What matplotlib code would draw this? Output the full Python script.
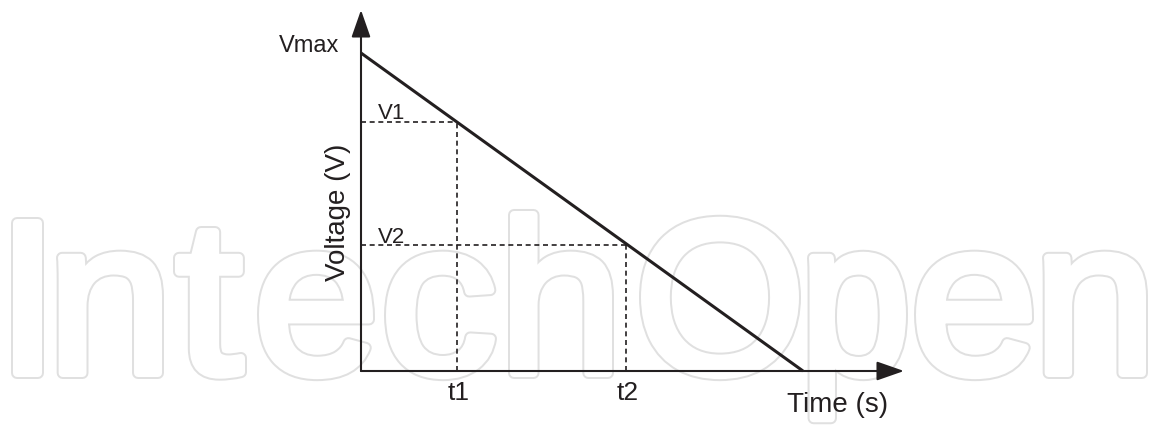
import matplotlib
matplotlib.use("Agg")
import matplotlib.pyplot as plt
from matplotlib.textpath import TextPath
from matplotlib.font_manager import FontProperties
from matplotlib.patches import PathPatch
from matplotlib.transforms import Affine2D

# ---- data (normalised units: Vmax = 1, end time = 1) ----
line_t = [0.0, 1.0]
line_v = [1.0, 0.0]
marker_t = [0.218, 0.600]
marker_v = [0.784, 0.395]
t_labels = ["t1", "t2"]
v_labels = ["V1", "V2"]
vmax_label = "Vmax"
x_label = "Time (s)"
y_label = "Voltage (V)"
watermark = "IntechOpen"

W, H = 1151, 426
fig = plt.figure(figsize=(W / 100, H / 100), dpi=100)
fig.patch.set_facecolor("white")

# axes spanning the figure; data origin at pixel (361, 371 from top)
ax = fig.add_axes([0, 0, 1, 1])
ax.set_facecolor("none")
ax.axis("off")
px_x, px_y = 442.0, 318.0
ox, oy = 361.0, H - 371.0
ax.set_xlim(-ox / px_x, (W - ox) / px_x)
ax.set_ylim(-oy / px_y, (H - oy) / px_y)
ax.set_zorder(1)

ink = "#231f20"
font = ["Liberation Sans", "DejaVu Sans"]

# ---- watermark (outlined, slightly expanded letters, tracked out) ----
fp = FontProperties(family=font)
grow = 5
capI = TextPath((0, 0), "I", size=1, prop=fp).get_extents()
sy = (160 - 2 * grow) / capI.height
base_px = H - 378 + grow
glyph_left = [12, 57, 174, 258, 385, 509, 640, 808, 915, 1043]
glyph_right = [43, 163, 246, 374, 496, 613, 800, 907, 1033, 1147]
outer = (2 * grow + 2) * 0.72
inner = (2 * grow - 2) * 0.72
for ch, lx, rx in zip(watermark, glyph_left, glyph_right):
    gp = TextPath((0, 0), ch, size=1, prop=fp)
    ge = gp.get_extents()
    sx = (rx - lx - 2 * grow) / ge.width
    tr = (Affine2D().translate(-ge.x0, 0).scale(sx, sy)
          .translate(lx + grow, base_px).scale(1 / W, 1 / H) + fig.transFigure)
    fig.add_artist(PathPatch(gp, transform=tr, facecolor="white", edgecolor="#e0e0e0",
                             lw=outer, joinstyle="round", zorder=-2))
    fig.add_artist(PathPatch(gp, transform=tr, facecolor="white", edgecolor="white",
                             lw=inner, joinstyle="round", zorder=-1))

# ---- axes arrows ----
x_tip = (904 - ox) / px_x
y_tip = (H - 10 - oy) / px_y
arrow = dict(arrowstyle="-|>,head_length=1.2,head_width=0.42", mutation_scale=14,
             lw=1.5, color=ink, shrinkA=0, shrinkB=0)
ax.annotate("", xy=(x_tip, 0), xytext=(0, 0), arrowprops=arrow)
ax.annotate("", xy=(0, y_tip), xytext=(0, 0), arrowprops=arrow)

# ---- main discharge line ----
ax.plot(line_t, line_v, color=ink, lw=2.2, solid_capstyle="butt")

# ---- dashed guides and labels ----
for t, v, tl, vl in zip(marker_t, marker_v, t_labels, v_labels):
    ax.plot([0, t], [v, v], color=ink, lw=1.2, ls=(0, (3.0, 2.2)))
    ax.plot([t, t], [0, v], color=ink, lw=1.2, ls=(0, (3.0, 2.2)))
    ax.annotate(tl, xy=(t, 0), xytext=(1, -16), textcoords="offset points",
                ha="center", va="center", fontsize=19, color=ink, family=font)
    ax.annotate(vl, xy=(0, v), xytext=(12, 2), textcoords="offset points",
                ha="left", va="baseline", fontsize=16, color=ink, family=font)

ax.annotate(vmax_label, xy=(0, line_v[0]), xytext=(-16, 1), textcoords="offset points",
            ha="right", va="baseline", fontsize=17, color=ink, family=font)
ax.annotate(x_label, xy=(x_tip, 0), xytext=(-11.5, -24.5), textcoords="offset points",
            ha="right", va="center", fontsize=20, color=ink, family=font)
ax.text((338 - ox) / px_x, 0.5, y_label, rotation=90, ha="center", va="center",
        fontsize=20, color=ink, family=font)

fig.savefig("out.png", dpi=100, facecolor="white")
